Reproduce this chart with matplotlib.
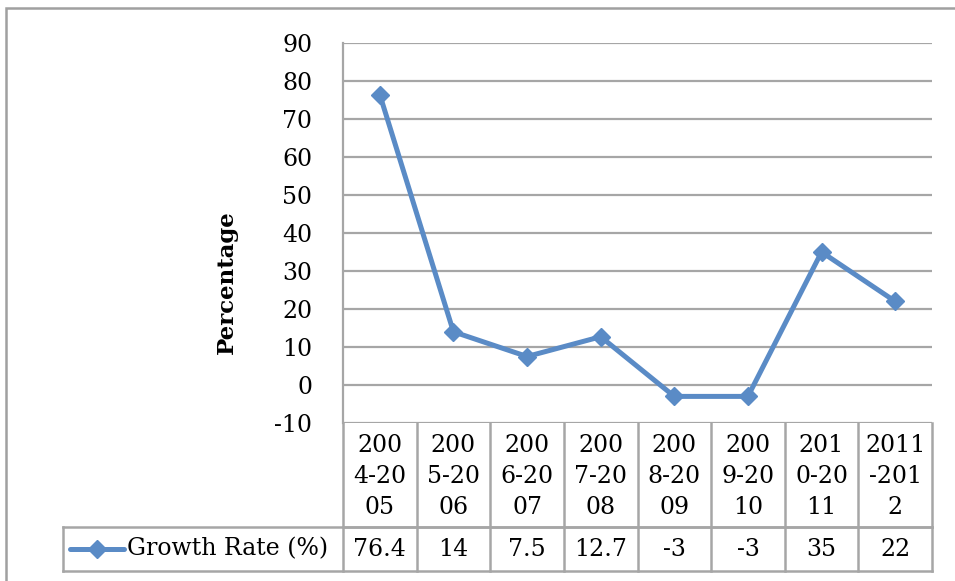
import matplotlib
matplotlib.use("Agg")
import matplotlib.pyplot as plt
from matplotlib.lines import Line2D

# data
periods = ["200\n4-20\n05", "200\n5-20\n06", "200\n6-20\n07", "200\n7-20\n08",
           "200\n8-20\n09", "200\n9-20\n10", "201\n0-20\n11", "2011\n-201\n2"]
growth = [76.4, 14, 7.5, 12.7, -3, -3, 35, 22]
value_labels = ["76.4", "14", "7.5", "12.7", "-3", "-3", "35", "22"]
yticks = list(range(-10, 100, 10))
series_name = "Growth Rate (%)"

blue = "#5A8BC6"
grid = "#A6A6A6"
fs = 17
plt.rcParams["font.family"] = ["DejaVu Serif"]

fig = plt.figure(figsize=(9.55, 5.81), dpi=100)
ax = fig.add_axes([343 / 955, 1 - 423 / 581, (932 - 343) / 955, (423 - 43) / 581])

n = len(growth)
xs = list(range(n))
ax.plot(xs, growth, color=blue, lw=3.6, marker="D", ms=9, zorder=3)

ax.set_xlim(-0.5, n - 0.5)
ax.set_ylim(-10, 90)
ax.set_yticks(yticks)
ax.set_yticklabels([str(t) for t in yticks], fontsize=fs)
ax.tick_params(axis="y", length=0, pad=22)
ax.set_xticks([])
ax.grid(axis="y", color=grid, lw=1.6)
ax.set_axisbelow(True)
for s in ["top", "right", "bottom"]:
    ax.spines[s].set_visible(False)
ax.spines["left"].set_color(grid)
ax.spines["left"].set_linewidth(1.6)
ax.set_ylabel("Percentage", fontsize=16.5, fontweight="bold")
ax.yaxis.set_label_coords(-0.178, 0.37)

# data table under the plot
tr = ax.transAxes
y_h = -104 / 380
y_v = -148 / 380
x_leg = (63 - 343) / 589
kw = dict(transform=tr, color=grid, lw=1.8, clip_on=False)
ax.add_line(Line2D([0, 1], [y_h, y_h], **kw))
ax.add_line(Line2D([x_leg, 1], [y_h, y_h], **kw))
ax.add_line(Line2D([x_leg, 1], [y_v, y_v], **kw))
ax.add_line(Line2D([x_leg, x_leg], [y_h, y_v], **kw))
for k in range(n + 1):
    ax.add_line(Line2D([k / n, k / n], [0, y_v], **kw))

for i in range(n):
    cx = (i + 0.5) / n
    ax.text(cx, y_h / 2 - 0.005, periods[i], transform=tr, ha="center",
            va="center", fontsize=fs, linespacing=1.45)
    ax.text(cx, (y_h + y_v) / 2, value_labels[i], transform=tr, ha="center",
            va="center", fontsize=fs)

# legend key in the table
ly = (y_h + y_v) / 2
ax.add_line(Line2D([(70 - 343) / 589, (124 - 343) / 589], [ly, ly], transform=tr,
                   color=blue, lw=3.6, clip_on=False, solid_capstyle="round"))
ax.add_line(Line2D([(97 - 343) / 589], [ly], transform=tr, color=blue,
                   marker="D", ms=9, clip_on=False))
ax.text((127 - 343) / 589, ly, series_name, transform=tr, ha="left",
        va="center", fontsize=fs)

# chart frame
fig.add_artist(plt.Rectangle((6 / 955, -0.1), 1.2, 1 - 8 / 581 + 0.1,
                             transform=fig.transFigure, fill=False,
                             edgecolor="#A0A0A0", lw=1.8))

fig.savefig("out.png", dpi=100)
